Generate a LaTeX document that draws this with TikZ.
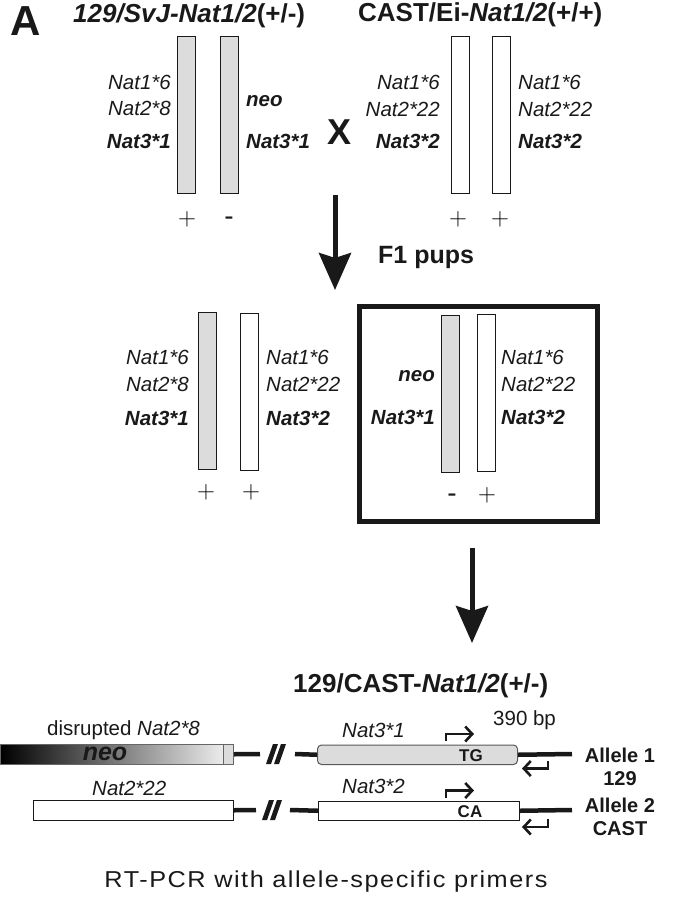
\documentclass[tikz,border=0pt]{standalone}
\usepackage{fontspec}
\setmainfont{Liberation Sans}
\usetikzlibrary{arrows.meta}
\definecolor{barfill}{RGB}{220,220,220}
\definecolor{ink}{RGB}{25,25,25}
\definecolor{neoend}{RGB}{236,236,236}
\begin{document}
\begin{tikzpicture}[x=1pt,y=-1pt,
  bar/.style={draw=ink, line width=0.9pt, inner sep=0, minimum width=17.5pt, minimum height=157pt, anchor=north west},
  grayb/.style={bar, fill=barfill},
  whiteb/.style={bar, fill=white},
  lab/.style={inner sep=0, text=ink, font=\fontsize{20.5}{24}\selectfont\itshape},
  labb/.style={inner sep=0, text=ink, font=\fontsize{20.5}{24}\selectfont\bfseries\itshape},
  L/.style={anchor=base east},
  R/.style={anchor=base west},
  plus/.style={inner sep=0, text=black, font=\fontsize{26}{26}\selectfont},
  minus/.style={inner sep=0, text=ink, anchor=base, font=\fontsize{28}{28}\selectfont},
  title/.style={inner sep=0, anchor=base west, text=ink, font=\fontsize{26}{30}\selectfont\bfseries},
  bigarrow/.style={line width=5pt, draw=ink, -{Stealth[length=37pt,width=32pt,inset=5pt]}},
  backbone/.style={line width=4.5pt, draw=ink},
  primer/.style={line width=2.6pt, draw=ink, -{Straight Barb[length=7pt,width=15pt]}},
  gene/.style={inner sep=0, anchor=north west, line width=1pt, minimum height=19.5pt},
  allele/.style={inner sep=0, anchor=base, text=ink, font=\fontsize{20}{24}\selectfont\bfseries},
  snp/.style={inner sep=0, anchor=base, text=ink, font=\fontsize{17}{20}\selectfont\bfseries},
  plain/.style={inner sep=0, text=ink, font=\fontsize{20.5}{24}\selectfont}
]
\useasboundingbox (0,0) rectangle (688,903);

% panel letter and titles
\node[inner sep=0, anchor=base west, text=ink, font=\fontsize{42}{44}\selectfont\bfseries] (A) at (10,35) {A};
\node[title] (t1) at (73,22) {\textit{129/SvJ-Nat1/2}(+/-)};
\node[title] (t2) at (358,21) {CAST/Ei-\textit{Nat1/2}(+/+)};

% top-left parent chromosomes
\node[grayb] (b1) at (177,36) {};
\node[grayb] (b2) at (220,36) {};
\node[lab,L] (b1l1) at (171,89) {Nat1*6};
\node[lab,L] (b1l2) at (171,115) {Nat2*8};
\node[labb,L] (b1l3) at (171,148) {Nat3*1};
\node[labb,R] (b2l1) at (246,106) {neo};
\node[labb,R] (b2l2) at (246,148) {Nat3*1};
\node[plus] (p1) at (187,219) {$\mathbf{+}$};
\node[minus] (m1) at (229,225) {-};

\node[inner sep=0, anchor=base, text=ink, font=\fontsize{36}{38}\selectfont\bfseries] (X) at (340,144) {X};

% top-right parent chromosomes
\node[whiteb] (b3) at (451,36) {};
\node[whiteb] (b4) at (492,36) {};
\node[lab,L] (b3l1) at (440,89) {Nat1*6};
\node[lab,L] (b3l2) at (440,116) {Nat2*22};
\node[labb,L] (b3l3) at (440,148) {Nat3*2};
\node[lab,R] (b4l1) at (518,89) {Nat1*6};
\node[lab,R] (b4l2) at (518,116) {Nat2*22};
\node[labb,R] (b4l3) at (518,148) {Nat3*2};
\node[plus] (p3) at (458,219) {$\mathbf{+}$};
\node[plus] (p4) at (500,219) {$\mathbf{+}$};

% first arrow
\coordinate (a1s) at (335,195);
\coordinate (a1e) at (335,290);
\draw[bigarrow] (a1s) -- (a1e);
\node[inner sep=0, anchor=base west, text=ink, font=\fontsize{25}{28}\selectfont\bfseries] (F1) at (378,263) {F1 pups};

% F1 middle left
\node[grayb] (b5) at (198,312) {};
\node[whiteb] (b6) at (240,313) {};
\node[lab,L] (b5l1) at (189,364) {Nat1*6};
\node[lab,L] (b5l2) at (189,391) {Nat2*8};
\node[labb,L] (b5l3) at (189,425) {Nat3*1};
\node[lab,R] (b6l1) at (266,364) {Nat1*6};
\node[lab,R] (b6l2) at (266,391) {Nat2*22};
\node[labb,R] (b6l3) at (266,425) {Nat3*2};
\node[plus] (p5) at (206,492) {$\mathbf{+}$};
\node[plus] (p6) at (251,492) {$\mathbf{+}$};

% selected F1 (boxed)
\node[draw=ink, line width=5pt, inner sep=0, minimum width=238pt, minimum height=215pt, anchor=north west] (sel) at (356.5,303.5) {};
\node[grayb] (b7) at (441,315) {};
\node[whiteb] (b8) at (477,314) {};
\node[labb,L] (b7l1) at (435,381) {neo};
\node[labb,L] (b7l2) at (435,424) {Nat3*1};
\node[lab,R] (b8l1) at (501,364) {Nat1*6};
\node[lab,R] (b8l2) at (501,391) {Nat2*22};
\node[labb,R] (b8l3) at (501,424) {Nat3*2};
\node[minus] (m7) at (452,502) {-};
\node[plus] (p8) at (487,495) {$\mathbf{+}$};

% second arrow
\coordinate (a2s) at (472,548);
\coordinate (a2e) at (472,643);
\draw[bigarrow] (a2s) -- (a2e);

% bottom title
\node[title] (t3) at (293,692) {129/CAST-\textit{Nat1/2}(+/-)};

% allele 1
\node[gene, minimum width=223pt, draw=black!60, left color=black, right color=neoend] (neobar) at (0,744) {};
\node[inner sep=0, anchor=base, text=ink, font=\fontsize{25}{28}\selectfont\bfseries\itshape] (neotxt) at (105,760) {neo};
\node[gene, minimum width=10pt, draw=black!60, fill=barfill] (neotail) at (223,744) {};
\coordinate (g1a) at (260,754);
\coordinate (g1b) at (295,754);
\node[gene, minimum width=200pt, draw=black!65, fill=barfill, rounded corners=4pt] (n31) at (317,744.5) {};
\coordinate (a1end) at (572,754);
\draw[backbone] (neotail.east) -- (g1a);
\draw[backbone] (g1b) -- (n31.west);
\draw[backbone] (n31.east) -- (a1end);
\fill[ink] (266,764) -- (271,764) -- (278,744) -- (273,744) -- cycle;
\fill[ink] (274,764) -- (279,764) -- (286,744) -- (281,744) -- cycle;
\node[snp] (tg) at (471,761) {TG};
\node[plain, anchor=base west] (dis) at (47,735) {disrupted \textit{Nat2*8}};
\node[plain, anchor=base west] (n31t) at (342,737) {\textit{Nat3*1}};
\node[plain, anchor=base west] (bp) at (493,725) {390 bp};
\coordinate (f1s) at (446,741);
\coordinate (f1e) at (474,734);
\draw[primer] (f1s) |- (f1e);
\coordinate (r1s) at (548,761);
\coordinate (r1e) at (522,768.5);
\draw[primer] (r1s) |- (r1e);
\node[allele] (al1) at (620,762) {Allele 1};
\node[allele] (al1b) at (620,785) {129};

% allele 2
\node[gene, minimum width=200pt, draw=ink, fill=white] (n222) at (33,800) {};
\coordinate (g2a) at (256,810);
\coordinate (g2b) at (290,810);
\node[gene, minimum width=201pt, draw=ink, fill=white] (n32) at (318,800.5) {};
\coordinate (a2end) at (572,810);
\draw[backbone] (n222.east) -- (g2a);
\draw[backbone] (g2b) -- (n32.west);
\draw[backbone] (n32.east) -- (a2end);
\fill[ink] (262,820) -- (267,820) -- (274,800) -- (269,800) -- cycle;
\fill[ink] (270,820) -- (275,820) -- (282,800) -- (277,800) -- cycle;
\node[snp] (ca) at (470,817) {CA};
\node[plain, anchor=base west] (n222t) at (92,795) {\textit{Nat2*22}};
\node[plain, anchor=base west] (n32t) at (342,793) {\textit{Nat3*2}};
\coordinate (f2s) at (446,798);
\coordinate (f2e) at (474,790.5);
\draw[primer] (f2s) |- (f2e);
\coordinate (r2s) at (548,819);
\coordinate (r2e) at (522,827);
\draw[primer] (r2s) |- (r2e);
\node[allele] (al2) at (620,812) {Allele 2};
\node[allele] (al2b) at (620,835) {CAST};

% caption
\node[inner sep=0, anchor=base, text=ink] (cap) at (326,887) {\scalebox{1.1}[1]{\fontsize{23}{26}\selectfont\addfontfeature{LetterSpace=6}RT-PCR with allele-specific primers}};
\end{tikzpicture}
\end{document}
